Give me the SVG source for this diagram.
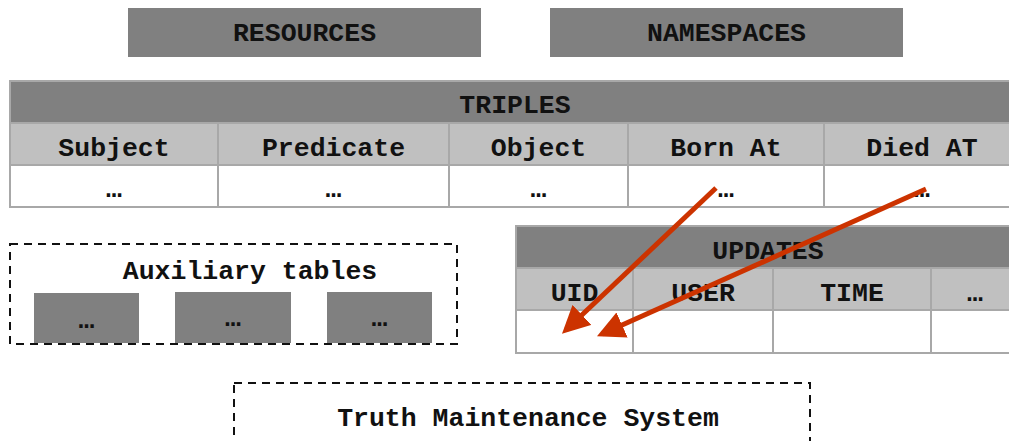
<svg xmlns="http://www.w3.org/2000/svg" width="1009" height="441" viewBox="0 0 1009 441">
  <style>
    text { font-family: "Liberation Mono", "Courier New", monospace; font-weight: bold; font-size: 26.5px; fill: #111; text-anchor: middle; }
    .dark { fill: #808080; }
    .light { fill: #c0c0c0; }
    .cell { fill: #ffffff; }
    .grid { stroke: #a8a8a8; stroke-width: 2; fill: none; }
    .dash { fill: none; stroke: #111; stroke-width: 2; stroke-dasharray: 8 6; }
    .link { stroke: #cc3300; stroke-width: 5; fill: none; marker-end: url(#head); }
  </style>
  <defs>
    <marker id="head" viewBox="0 0 10 10" refX="8" refY="5" markerWidth="5.5" markerHeight="5.5" markerUnits="strokeWidth" orient="auto">
      <path d="M0,0 L10,5 L0,10 Z" fill="#cc3300"/>
    </marker>
  </defs>
  <rect width="1009" height="441" fill="#ffffff"/>

  <g id="resources">
    <rect class="dark" x="128" y="8" width="353" height="49"/>
    <text x="304.5" y="41">RESOURCES</text>
  </g>
  <g id="namespaces">
    <rect class="dark" x="550" y="8" width="353" height="49"/>
    <text x="726.5" y="41">NAMESPACES</text>
  </g>

  <g id="triples">
    <rect class="dark" x="10" y="81" width="1010" height="42"/>
    <rect class="light" x="10" y="123" width="1010" height="42"/>
    <rect class="cell" x="10" y="165" width="1010" height="42"/>
    <rect class="grid" x="10" y="81" width="1010" height="126"/>
    <path class="grid" d="M10,123 H1020 M10,165 H1020 M218,123 V207 M449,123 V207 M628,123 V207 M824,123 V207"/>
    <text x="515" y="113">TRIPLES</text>
    <text x="114" y="156">Subject</text>
    <text x="333.5" y="156">Predicate</text>
    <text x="538.5" y="156">Object</text>
    <text x="726" y="156">Born At</text>
    <text x="922" y="156">Died AT</text>
    <text x="114" y="197">…</text>
    <text x="333.5" y="197">…</text>
    <text x="538.5" y="197">…</text>
    <text x="726" y="197">…</text>
    <text x="922" y="197">…</text>
  </g>

  <g id="auxiliary">
    <rect class="dash" x="10" y="244" width="447" height="100"/>
    <text x="250" y="279">Auxiliary tables</text>
    <rect class="dark" x="34" y="293" width="105" height="50"/>
    <rect class="dark" x="175" y="292" width="116" height="51"/>
    <rect class="dark" x="327" y="292" width="105" height="51"/>
    <text x="86.5" y="328">…</text>
    <text x="233" y="326">…</text>
    <text x="379.5" y="326">…</text>
  </g>

  <g id="updates">
    <rect class="dark" x="516" y="226" width="504" height="42"/>
    <rect class="light" x="516" y="268" width="504" height="42"/>
    <rect class="cell" x="516" y="310" width="504" height="43"/>
    <rect class="grid" x="516" y="226" width="504" height="127"/>
    <path class="grid" d="M516,268 H1020 M516,310 H1020 M633,268 V353 M773,268 V353 M931,268 V353"/>
    <text x="768" y="259">UPDATES</text>
    <text x="574.5" y="301">UID</text>
    <text x="703" y="301">USER</text>
    <text x="852" y="301">TIME</text>
    <text x="975" y="301">…</text>
  </g>

  <g id="tms">
    <rect class="dash" x="234" y="383" width="576" height="80"/>
    <text x="528" y="426">Truth Maintenance System</text>
  </g>

  <g id="connectors">
    <line class="link" x1="716" y1="188" x2="566" y2="330"/>
    <line class="link" x1="926" y1="189" x2="602" y2="334"/>
  </g>
</svg>
